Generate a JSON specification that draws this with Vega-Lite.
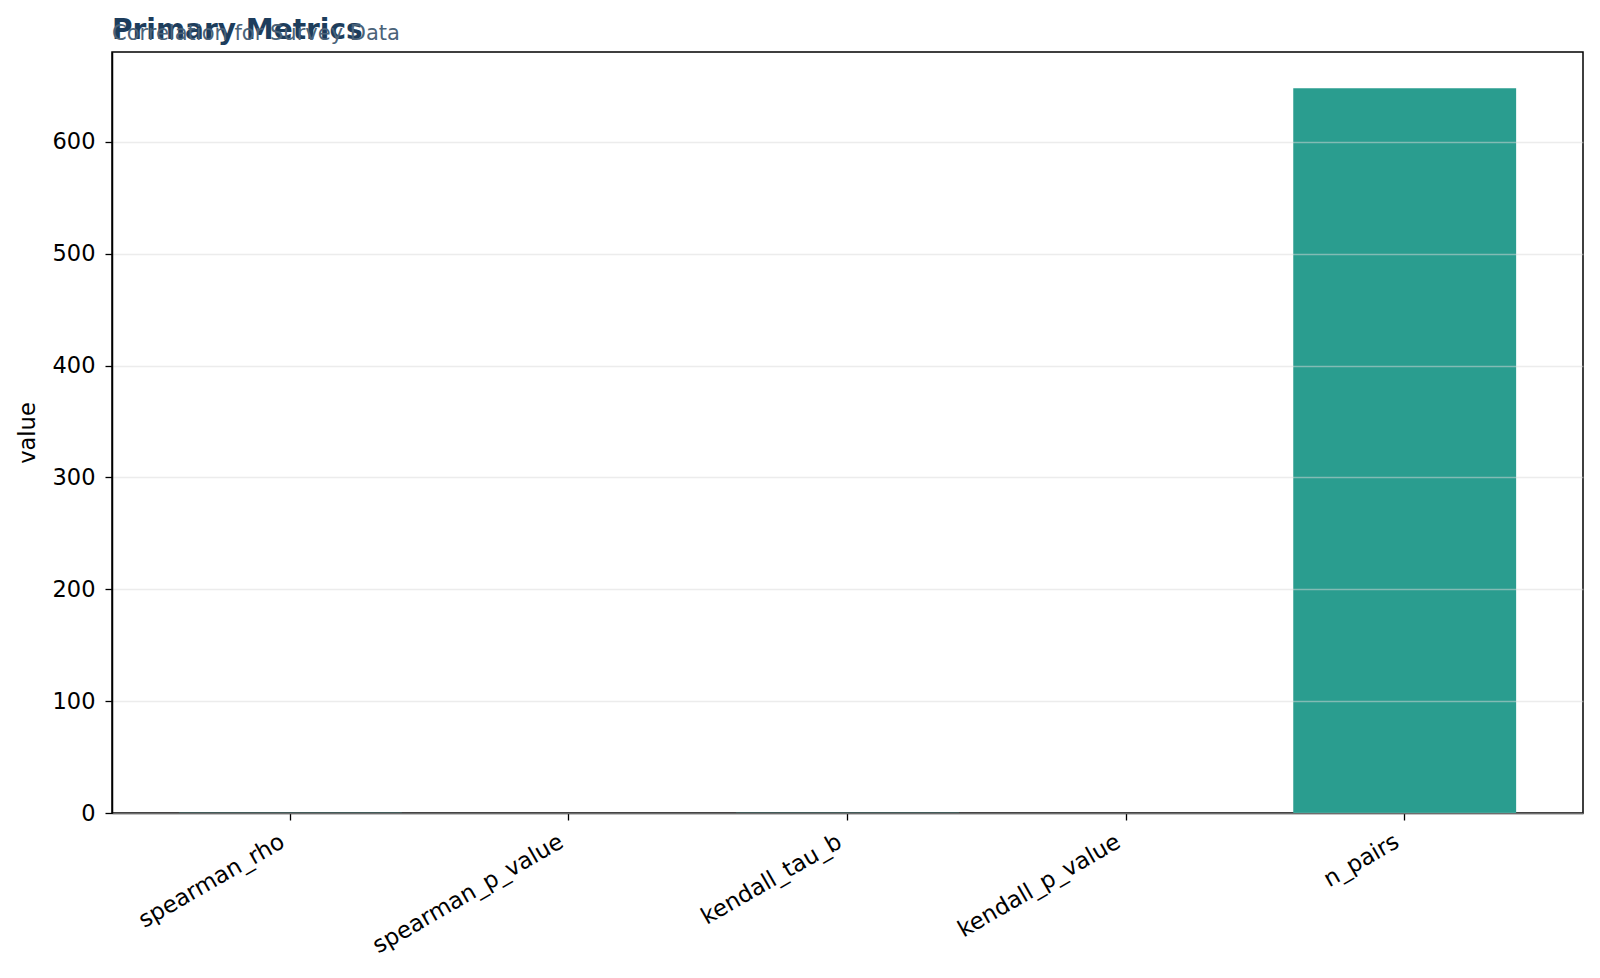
{
  "$schema": "https://vega.github.io/schema/vega-lite/v6.json",
  "width": 1471,
  "height": 761,
  "autosize": {"type": "none"},
  "padding": {"left": 112, "top": 52, "right": 17, "bottom": 165},
  "background": "white",
  "title": {
    "text": "Primary Metrics",
    "subtitle": "Correlation for Survey Data",
    "anchor": "start",
    "frame": "group",
    "font": "DejaVu Sans",
    "fontSize": 28,
    "fontWeight": "bold",
    "color": "#1d3d5c",
    "subtitleFont": "DejaVu Sans",
    "subtitleFontSize": 21,
    "subtitleColor": "#4b6379",
    "subtitlePadding": -22,
    "offset": 7
  },
  "config": {
    "view": {"stroke": "#000000", "strokeWidth": 1.5},
    "font": "DejaVu Sans"
  },
  "data": {
    "values": [
      {"metric": "spearman_rho", "value": 0.31},
      {"metric": "spearman_p_value", "value": 0.0001},
      {"metric": "kendall_tau_b", "value": 0.22},
      {"metric": "kendall_p_value", "value": 0.0001},
      {"metric": "n_pairs", "value": 648}
    ]
  },
  "mark": {"type": "bar", "color": "#2a9d8f"},
  "encoding": {
    "x": {
      "field": "metric",
      "type": "nominal",
      "sort": null,
      "scale": {"paddingInner": 0.2, "paddingOuter": 0.24},
      "axis": {
        "title": null,
        "labelAngle": -30,
        "labelAlign": "right",
        "labelBaseline": "top",
        "labelFont": "DejaVu Sans",
        "labelFontSize": 23,
        "labelColor": "#000000",
        "labelPadding": 10,
        "labelOffset": -13,
        "labelLimit": 0,
        "labelOverlap": false,
        "tickSize": 7,
        "tickColor": "#000000",
        "tickWidth": 1.3,
        "domainColor": "#000000",
        "domainWidth": 1.5,
        "grid": false
      }
    },
    "y": {
      "field": "value",
      "type": "quantitative",
      "scale": {"domain": [0, 680.4], "nice": false, "zero": true},
      "axis": {
        "title": "value",
        "titleFont": "DejaVu Sans",
        "titleFontSize": 22.5,
        "titleFontWeight": "normal",
        "titleColor": "#000000",
        "titlePadding": 13,
        "values": [0, 100, 200, 300, 400, 500, 600],
        "labelFont": "DejaVu Sans",
        "labelFontSize": 22.5,
        "labelColor": "#000000",
        "labelPadding": 10,
        "tickSize": 7,
        "tickColor": "#000000",
        "tickWidth": 1.3,
        "domainColor": "#000000",
        "domainWidth": 1.5,
        "grid": true,
        "gridColor": "#d9d9d9",
        "gridOpacity": 0.5,
        "gridWidth": 1.3,
        "zindex": 1
      }
    }
  }
}
